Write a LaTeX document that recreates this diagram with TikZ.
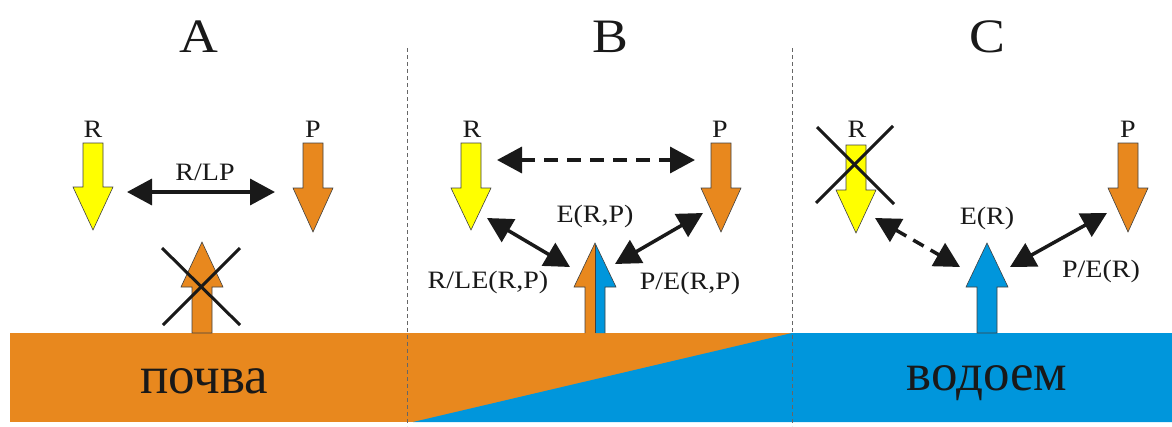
\documentclass[tikz,border=0pt]{standalone}
\usepackage{fontspec}
\setmainfont{LiberationSerif-Regular.ttf}
\usetikzlibrary{arrows.meta}
\definecolor{org}{RGB}{232,136,30}
\definecolor{wat}{RGB}{0,150,220}
\definecolor{yel}{RGB}{255,255,0}
\definecolor{ink}{RGB}{25,25,25}
\newcommand\sx[1]{\scalebox{1.12}[1]{#1}}
% block arrow pointing down: centre x, top y, head-base y, tip y, colour
\newcommand\blkdown[5]{\filldraw[blk,fill=#5] ({#1-10},#2) -- ({#1+10},#2) -- ({#1+10},#3) -- ({#1+20},#3) -- (#1,#4) -- ({#1-20},#3) -- ({#1-10},#3) -- cycle;}
% block arrow pointing up: centre x, bottom y, head-base y, tip y, colour
\newcommand\blkup[5]{\filldraw[blk,fill=#5] ({#1-10},#2) -- ({#1+10},#2) -- ({#1+10},#3) -- ({#1+21},#3) -- (#1,#4) -- ({#1-21},#3) -- ({#1-10},#3) -- cycle;}
\begin{document}
\begin{tikzpicture}[x=1pt,y=-1pt,
  blk/.style={draw=black!75,line width=0.6pt},
  dbl/.style={draw=ink,line width=3.5pt,{Triangle[length=25pt,width=26pt]}-{Triangle[length=25pt,width=26pt]}},
  dbldash/.style={dbl,dash pattern=on 14pt off 9pt},
  cross/.style={draw=ink,line width=3pt},
  divider/.style={draw=black!60,line width=1pt,dash pattern=on 4pt off 3pt},
  title/.style={anchor=base,inner sep=0pt,font=\fontsize{48}{50}\selectfont,text=ink},
  lab/.style={anchor=base,inner sep=0pt,font=\fontsize{25}{27}\selectfont,text=ink},
  soil/.style={anchor=base,inner sep=0pt,font=\fontsize{53}{55}\selectfont,text=ink}]
\useasboundingbox (0,0) rectangle (1172,426);
% ground
\fill[org] (10,333) rectangle (1172,422);
\fill[wat] (413,422) -- (792,333) -- (1172,333) -- (1172,422) -- cycle;
% dividers
\draw[divider] (407,48) -- (407,426);
\draw[divider] (792,48) -- (792,426);
% titles
\node[title] (tA) at (199,52) {\sx{A}};
\node[title] (tB) at (610,52) {\sx{B}};
\node[title] (tC) at (987,52) {\sx{C}};
\node[soil] (soil) at (204,393) {почва};
\node[soil] (water) at (987,390) {водоем};

% ---------- panel A
\blkdown{93}{143}{187}{230}{yel}
\blkdown{313}{143}{188}{232}{org}
\node[lab] (aR) at (93,137) {\sx{R}};
\node[lab] (aP) at (313,137) {\sx{P}};
\blkup{202}{333}{287}{242}{org}
\coordinate (aX1) at (162,248); \coordinate (aX2) at (240,325);
\coordinate (aX3) at (240,248); \coordinate (aX4) at (163,325);
\draw[cross] (aX1) -- (aX2);
\draw[cross] (aX3) -- (aX4);
\coordinate (aL) at (127,192); \coordinate (aRr) at (275,192);
\draw[dbl] (aL) -- (aRr);
\node[lab] (aRLP) at (205,180) {\sx{R/LP}};

% ---------- panel B
\blkdown{471}{143}{188}{230}{yel}
\blkdown{721}{143}{188}{232}{org}
\node[lab] (bR) at (472,137) {\sx{R}};
\node[lab] (bP) at (720,137) {\sx{P}};
\fill[org] (595,243) -- (574,287) -- (585,287) -- (585,333) -- (595,333) -- cycle;
\fill[wat] (595,243) -- (616,287) -- (605,287) -- (605,333) -- (595,333) -- cycle;
\draw[blk] (585,333) -- (585,287) -- (574,287) -- (595,243) -- (616,287) -- (605,287) -- (605,333);
\draw[blk] (595,245) -- (595,333);
\coordinate (bD1) at (497,160); \coordinate (bD2) at (695,160);
\draw[dbldash] (bD1) -- (bD2);
\coordinate (bL1) at (487,218); \coordinate (bL2) at (570,267);
\draw[dbl] (bL1) -- (bL2);
\coordinate (bR1) at (703,213); \coordinate (bR2) at (615,264);
\draw[dbl] (bR1) -- (bR2);
\node[lab] (bE) at (595,222) {\sx{E(R,P)}};
\node[lab] (bRLE) at (488,288) {\sx{R/LE(R,P)}};
\node[lab] (bPE) at (690,289) {\sx{P/E(R,P)}};

% ---------- panel C
\blkdown{856}{145}{190}{233}{yel}
\blkdown{1128}{143}{188}{232}{org}
\node[lab] (cR) at (857,137) {\sx{R}};
\node[lab] (cP) at (1128,137) {\sx{P}};
\coordinate (cX1) at (817,127); \coordinate (cX2) at (894,204);
\coordinate (cX3) at (893,126); \coordinate (cX4) at (816,203);
\draw[cross] (cX1) -- (cX2);
\draw[cross] (cX3) -- (cX4);
\blkup{987}{333}{287}{243}{wat}
\coordinate (cL1) at (875,218); \coordinate (cL2) at (960,267);
\draw[dbldash,dash pattern=on 12pt off 8pt] (cL1) -- (cL2);
\coordinate (cR1) at (1107,213); \coordinate (cR2) at (1010,267);
\draw[dbl] (cR1) -- (cR2);
\node[lab] (cE) at (987,224) {\sx{E(R)}};
\node[lab] (cPE) at (1101,277) {\sx{P/E(R)}};
\end{tikzpicture}
\end{document}
